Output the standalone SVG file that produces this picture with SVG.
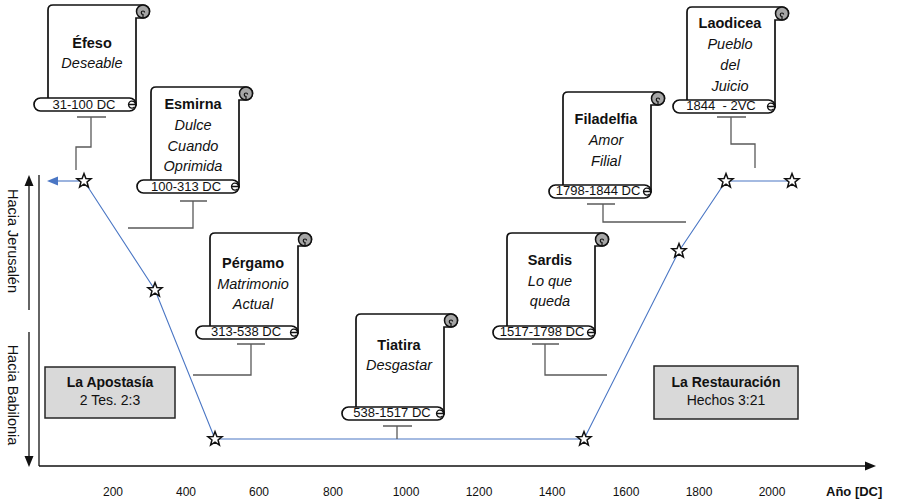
<svg xmlns="http://www.w3.org/2000/svg" xmlns:xlink="http://www.w3.org/1999/xlink" width="915" height="502" viewBox="0 0 915 502">
<style>
text{font-family:"Liberation Sans",Arial,sans-serif;fill:#111}
.nm{font-size:14.5px;font-weight:bold;text-anchor:middle}
.it{font-size:14.5px;font-style:italic;text-anchor:middle}
.dt{font-size:13px;text-anchor:middle;white-space:pre}
.bx{fill:#d9d9d9;stroke:#262626;stroke-width:1.5}
.bt{font-size:14px;text-anchor:middle}
.yr{font-size:12px;text-anchor:middle}
.side{font-size:14.5px;text-anchor:middle}
.bar{stroke:#404040;stroke-width:1.3;fill:none}
.con{stroke:#595959;stroke-width:1.3;fill:none}
.blue{stroke:#4a76c4;stroke-width:1.1;fill:none}
.ax{stroke:#111;stroke-width:1.3;fill:none}
.star{fill:#fff;stroke:#111;stroke-width:1.5;stroke-linejoin:miter}
</style>
<defs>
<g id="scroll">
<path d="M0,100 V5 Q0,0 5,0 H95 A6.5,6.5 0 0 1 95,13 H88 V100 Z" fill="#fff" stroke="#111" stroke-width="1.7"/>
<circle cx="95" cy="6.5" r="6.5" fill="#a6a6a6" stroke="#111" stroke-width="1.5"/>
<path d="M95,13 V9.5 A1.75,1.75 0 0 1 95,6 A1.6,1.6 0 0 1 96.6,7.6" fill="none" stroke="#111" stroke-width="1.2"/>
<rect x="-14" y="93" width="102" height="13" rx="6.5" fill="#fff" stroke="#111" stroke-width="1.7"/>
<path d="M80.5,99.5 h7 A3.5,3.5 0 1 0 86.5,102" fill="none" stroke="#111" stroke-width="1.3"/>
</g>
<path id="st" class="star" d="M0,-7.5 L1.88,-2.59 7.13,-2.32 3.04,0.99 4.41,6.07 0,3.2 -4.41,6.07 -3.04,0.99 -7.13,-2.32 -1.88,-2.59 Z"/>
</defs>

<g id="axes">
<line class="ax" x1="39" y1="175" x2="39" y2="466"/>
<line class="ax" x1="39" y1="466" x2="866" y2="466"/>
<path d="M876,466 L865,461.5 L865,470.5 Z" fill="#111"/>
<line class="ax" x1="29" y1="310" x2="29" y2="184"/>
<path d="M29,175 L24.5,186 L33.5,186 Z" fill="#111"/>
<line class="ax" x1="29" y1="332" x2="29" y2="458"/>
<path d="M29,467 L24.5,456 L33.5,456 Z" fill="#111"/>
<text class="side" transform="translate(8,241) rotate(90)">Hacia Jerusalén</text>
<text class="side" transform="translate(8,395) rotate(90)">Hacia Babilonia</text>
<text class="yr" x="113" y="496">200</text>
<text class="yr" x="186" y="496">400</text>
<text class="yr" x="259" y="496">600</text>
<text class="yr" x="333" y="496">800</text>
<text class="yr" x="406" y="496">1000</text>
<text class="yr" x="479" y="496">1200</text>
<text class="yr" x="552" y="496">1400</text>
<text class="yr" x="626" y="496">1600</text>
<text class="yr" x="699" y="496">1800</text>
<text class="yr" x="772" y="496">2000</text>
<text x="826" y="496" style="font-size:13px;font-weight:bold">Año [DC]</text>
</g>

<g id="connectors">
<polyline class="blue" points="84,181 155,290 215,439 584,439 679,251 726,181 792,181"/>
<line class="blue" x1="84" y1="181" x2="57" y2="181"/>
<path d="M47,181 L58,176.5 L58,185.5 Z" fill="#4a76c4"/>
<line class="bar" x1="77" y1="117" x2="106" y2="117"/>
<polyline class="con" points="91,117 91,147 76,147 76,170"/>
<line class="bar" x1="180" y1="201" x2="207" y2="201"/>
<polyline class="con" points="193,201 193,228 128,228"/>
<line class="bar" x1="237" y1="344" x2="265" y2="344"/>
<polyline class="con" points="251,344 251,375 193,375"/>
<line class="bar" x1="383" y1="426" x2="412" y2="426"/>
<polyline class="con" points="397,426 397,439"/>
<line class="bar" x1="532" y1="344" x2="559" y2="344"/>
<polyline class="con" points="545,344 545,375 607,375"/>
<line class="bar" x1="587" y1="204" x2="615" y2="204"/>
<polyline class="con" points="603,204 603,222 686,222"/>
<line class="bar" x1="717" y1="117" x2="746" y2="117"/>
<polyline class="con" points="731,117 731,144 755,144 755,168"/>
</g>

<g id="stars">
<use xlink:href="#st" href="#st" x="84" y="181"/>
<use xlink:href="#st" href="#st" x="155" y="290"/>
<use xlink:href="#st" href="#st" x="215" y="439"/>
<use xlink:href="#st" href="#st" x="584" y="439"/>
<use xlink:href="#st" href="#st" x="679" y="251"/>
<use xlink:href="#st" href="#st" x="726" y="181"/>
<use xlink:href="#st" href="#st" x="792" y="181"/>
</g>

<g id="efeso">
<use xlink:href="#scroll" href="#scroll" x="48" y="5"/>
<text class="nm" x="92" y="48">Éfeso</text>
<text class="it" x="92" y="68">Deseable</text>
<text class="dt" x="84" y="109">31-100 DC</text>
</g>
<g id="esmirna">
<use xlink:href="#scroll" href="#scroll" x="151" y="87"/>
<text class="nm" x="193" y="109">Esmirna</text>
<text class="it" x="193" y="130">Dulce</text>
<text class="it" x="193" y="151">Cuando</text>
<text class="it" x="193" y="171">Oprimida</text>
<text class="dt" x="186" y="191">100-313 DC</text>
</g>
<g id="pergamo">
<use xlink:href="#scroll" href="#scroll" x="210" y="233"/>
<text class="nm" x="253" y="268">Pérgamo</text>
<text class="it" x="253" y="289">Matrimonio</text>
<text class="it" x="253" y="309">Actual</text>
<text class="dt" x="246" y="336">313-538 DC</text>
</g>
<g id="tiatira">
<use xlink:href="#scroll" href="#scroll" x="356" y="314"/>
<text class="nm" x="399" y="350">Tiatira</text>
<text class="it" x="399" y="370">Desgastar</text>
<text class="dt" x="392" y="417">538-1517 DC</text>
</g>
<g id="sardis">
<use xlink:href="#scroll" href="#scroll" x="507" y="233"/>
<text class="nm" x="550" y="265">Sardis</text>
<text class="it" x="550" y="286">Lo que</text>
<text class="it" x="550" y="306">queda</text>
<text class="dt" x="542" y="336">1517-1798 DC</text>
</g>
<g id="filadelfia">
<use xlink:href="#scroll" href="#scroll" x="563" y="92"/>
<text class="nm" x="606" y="124">Filadelfia</text>
<text class="it" x="606" y="145">Amor</text>
<text class="it" x="606" y="166">Filial</text>
<text class="dt" x="598" y="195">1798-1844 DC</text>
</g>
<g id="laodicea">
<use xlink:href="#scroll" href="#scroll" x="687" y="7"/>
<text class="nm" x="730" y="28">Laodicea</text>
<text class="it" x="730" y="49">Pueblo</text>
<text class="it" x="730" y="70">del</text>
<text class="it" x="730" y="91">Juicio</text>
<text class="dt" x="721" y="110">1844  - 2VC</text>
</g>

<g id="apostasia">
<rect class="bx" x="45" y="367" width="130" height="51"/>
<text class="bt" x="110" y="387" style="font-weight:bold">La Apostasía</text>
<text class="bt" x="110" y="405">2 Tes. 2:3</text>
</g>
<g id="restauracion">
<rect class="bx" x="654" y="366" width="144" height="53"/>
<text class="bt" x="726" y="387" style="font-weight:bold">La Restauración</text>
<text class="bt" x="726" y="405">Hechos 3:21</text>
</g>
</svg>
